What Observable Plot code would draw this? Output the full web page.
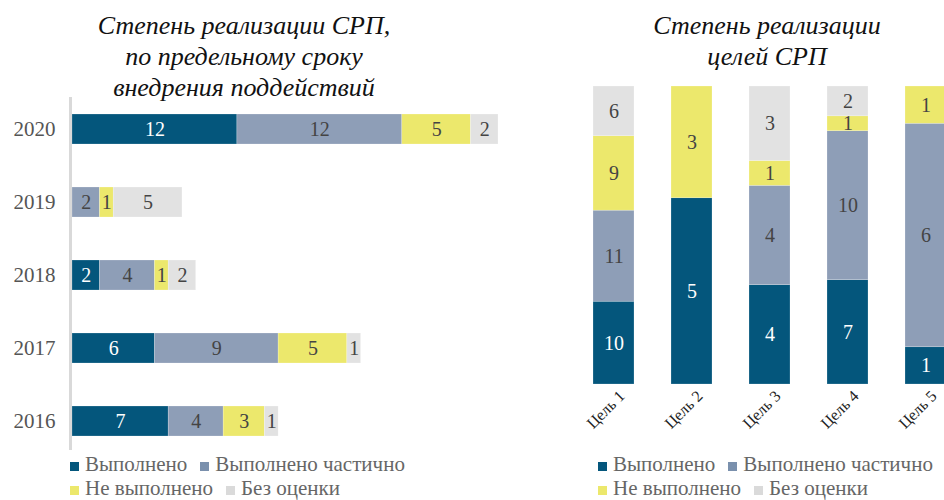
<!DOCTYPE html>
<html><head><meta charset="utf-8">
<script src="https://cdn.jsdelivr.net/npm/d3@7"></script>
<script src="https://cdn.jsdelivr.net/npm/@observablehq/plot@0.6"></script>
<style>
html,body{margin:0;padding:0;background:#fff;overflow:hidden;width:944px;height:500px;}
#wrap{position:relative;width:944px;height:500px;overflow:hidden;font-family:"Liberation Serif",serif;}
.title{position:absolute;font-style:italic;font-size:26px;line-height:31px;color:#111;text-align:center;}
.leg{position:absolute;font-size:21px;color:#666;white-space:nowrap;line-height:21px;}
.leg div{height:21px;margin-bottom:3px;}
.leg span.sw{display:inline-block;width:9px;height:9px;margin-right:6px;vertical-align:0px;}
.leg .it{display:inline-block;margin-right:13px;}
#left,#right{position:absolute;}
#left svg,#right svg{max-width:none !important;}
</style></head>
<body><div id="wrap">
<div class="title" style="left:94px;top:10px;width:300px;">Степень реализации СРП,<br>по предельному сроку<br>внедрения поддействий</div>
<div class="title" style="left:617px;top:10px;width:300px;">Степень реализации<br>целей СРП</div>
<div id="left" style="left:0;top:92px;width:498px;"></div>
<div id="right" style="left:572px;top:80px;width:394px;"></div>
<div class="leg" id="legL" style="left:70px;top:454px;"></div>
<div class="leg" id="legR" style="left:598px;top:454px;"></div>
</div>
<script>
const statuses = ["Выполнено", "Выполнено частично", "Не выполнено", "Без оценки"];
const statusColors = ["#04567C", "#8E9EB7", "#ECE86C", "#E2E2E2"];
const legendColors = ["#04567C", "#7A90AD", "#ECE86C", "#DADADA"];
const labelColors = ["#ffffff", "#444444", "#444444", "#444444"];

const years = ["2020", "2019", "2018", "2017", "2016"];
const yearDone    = [12, 0, 2, 6, 7];
const yearPartial = [12, 2, 4, 9, 4];
const yearNot     = [5, 1, 1, 5, 3];
const yearNone    = [2, 5, 2, 1, 1];

const goals = ["Цель 1", "Цель 2", "Цель 3", "Цель 4", "Цель 5"];
const goalDone    = [10, 5, 4, 7, 1];
const goalPartial = [11, 0, 4, 10, 6];
const goalNot     = [9, 3, 1, 1, 1];
const goalNone    = [6, 0, 3, 2, 0];

function table(cats, key, series) {
  const rows = [];
  cats.forEach((c, i) => series.forEach((s, k) => rows.push({
    [key]: c, status: statuses[k], value: s[i], bar: statusColors[k], lab: labelColors[k]
  })));
  return rows;
}
const yearRows = table(years, "year", [yearDone, yearPartial, yearNot, yearNone]);
const goalRows = table(goals, "goal", [goalDone, goalPartial, goalNot, goalNone]);
const order = statuses;

const left = Plot.plot({
  width: 498, height: 366,
  marginLeft: 72, marginRight: 0, marginTop: 0, marginBottom: 0,
  style: {fontFamily: "Liberation Serif, serif", background: "transparent", maxWidth: "none"},
  x: {domain: [0, 31], axis: null},
  y: {domain: years, paddingInner: 0.59, paddingOuter: 0.295},
  color: {type: "identity"},
  marks: [
    Plot.barX(yearRows, Plot.stackX({x: "value", y: "year", z: "status", order, fill: "bar", stroke: "#ffffff", strokeOpacity: 0.35, strokeWidth: 0.6})),
    Plot.text(yearRows.filter(d => d.value > 0), Plot.stackX({x: "value", y: "year", z: "status", order, text: d => String(d.value), fill: "lab", fontSize: 20})),
    Plot.ruleX([0], {stroke: "#D9D9D9", strokeWidth: 3, dx: -2, insetTop: 5, insetBottom: 8}),
    Plot.axisY({tickSize: 0, tickPadding: 17, fontSize: 21, fill: "#555", label: null})
  ]
});
document.getElementById("left").appendChild(left);

const right = Plot.plot({
  width: 394, height: 380,
  marginLeft: 0, marginRight: 0, marginTop: 6, marginBottom: 76,
  style: {fontFamily: "Liberation Serif, serif", background: "transparent", overflow: "visible", maxWidth: "none"},
  x: {domain: goals, paddingInner: 0.48, paddingOuter: 0.24},
  y: {axis: null},
  color: {type: "identity"},
  marks: [
    Plot.barY(goalRows, Plot.stackY({x: "goal", y: "value", z: "status", order, offset: "normalize", fill: "bar", stroke: "#ffffff", strokeOpacity: 0.35, strokeWidth: 0.6})),
    Plot.text(goalRows.filter(d => d.value > 0), Plot.stackY({x: "goal", y: "value", z: "status", order, offset: "normalize", text: d => String(d.value), fill: "lab", fontSize: 20})),
    Plot.axisX({tickSize: 0, tickPadding: 9, tickRotate: -45, fontSize: 16, fill: "#222", label: null, dx: 8})
  ]
});
document.getElementById("right").appendChild(right);

function legend(id) {
  const el = document.getElementById(id);
  const rows = [[0, 1], [2, 3]];
  el.innerHTML = rows.map(r => "<div>" + r.map(k =>
    `<span class="it"><span class="sw" style="background:${legendColors[k]}"></span>${statuses[k]}</span>`).join("") + "</div>").join("");
}
legend("legL");
legend("legR");
</script>
</body></html>
